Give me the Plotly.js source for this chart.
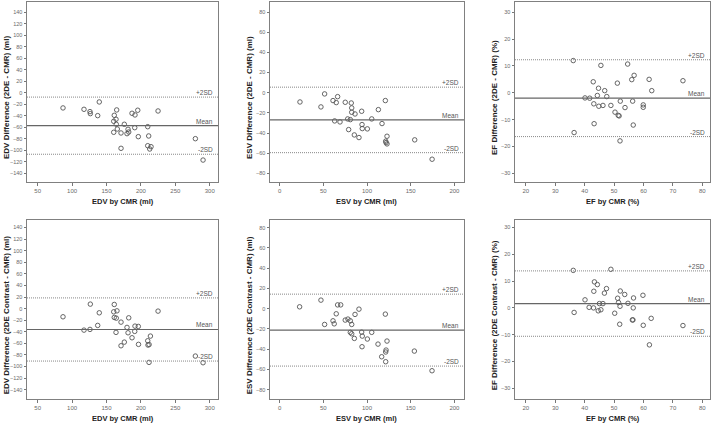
<!DOCTYPE html>
<html>
<head>
<meta charset="utf-8">
<script src="https://cdn.plot.ly/plotly-3.0.1.min.js"></script>
<style>html,body{margin:0;padding:0;background:#fff;}#chart{width:713px;height:426px;}</style>
</head>
<body>
<div id="chart"></div>
<script>
// ---------- data ----------
// Panel 1: EDV, 2DE - CMR
const edvCmrA = [86.8,117.3,126,126.5,137.2,139.5,161.3,164.8,163.8,160.5,164.2,165.7,160.5,171.1,175.9,181.3,182.3,179.8,187.1,191.4,195.4,191,196.2,171.1,209.9,211.3,209.9,214.7,212.8,224.9,279.1,290.3];
const edvDiff2DE = [-26.4,-28.8,-32.8,-36.3,-39.8,-16,-39.2,-29.9,-46.1,-49.6,-54.8,-63,-68.7,-69.9,-54.8,-63.5,-68.2,-71.1,-35.7,-38.6,-30.4,-60.7,-76.3,-96.5,-59,-75.1,-92,-93.7,-97.7,-31.7,-79.8,-116.9];
const edvLines2DE = [-57.2, -7.6, -106.8]; // mean, +2SD, -2SD

// Panel 2: ESV, 2DE - CMR
const esvCmrA = [23.3,47.3,51.5,61.1,64.8,66.4,63,69.1,75.1,82,82.5,82.5,86.3,77.9,80.9,93.9,79,85.5,90.8,94.3,94.6,100.4,105.4,113,117.2,121,122.9,121.4,121.8,122.9,154.6,174.5];
const esvDiff2DE = [-9.2,-14.1,-1.2,-7.8,-9.8,-3.9,-28,-29,-9.5,-10.2,-15.1,-19.4,-21.1,-26,-26.7,-18.4,-36.6,-41.9,-44.5,-31.6,-35.6,-35.9,-26,-16.8,-30.6,-7.8,-43.2,-48.1,-49.5,-50.8,-46.8,-66];
const esvLines2DE = [-27, 5.5, -59.5];

// Panel 3: EF, 2DE - CMR
const efCmrA = [36.1,36.4,40.1,41.7,42.9,43.1,43.2,44.3,44.7,44.8,45.5,46.2,46.8,47.5,48.9,50.3,51.1,51.4,51.7,52.1,52,53.7,54.6,56,56.8,56.3,56.5,59.9,59.9,61.9,62.8,73.4];
const efDiff2DE = [12,-14.8,-1.9,-2,4.1,-4.1,-11.5,-1,1.7,-5,10.2,-4.7,0.8,-1.4,-4.7,-7.2,3.6,-8.4,-8.6,-3.1,-17.9,-5.5,10.7,4.9,6.5,-3.1,-12,-4.5,-5.4,5,0.8,4.5];
const efLines2DE = [-2, 12.3, -16.3];

// Panel 4: EDV, 2DE Contrast - CMR
const edvCmrB = [86.8,117.3,126,126.5,137.2,139.5,161.3,160.5,165.2,161.3,164.2,171.1,163.8,175.9,171.1,179.8,181.3,182.3,187.1,191.4,196.2,191,196.5,209.9,210.3,211.9,213.8,224.9,279.1,211.8,290.3];
const edvDiffCon = [-14.1,-37.1,-35.9,7.8,-29,-7.2,7.2,-5.5,-3.8,-15.2,-16.4,-23.3,-41,-57.8,-64.1,-32.4,-41.7,-15.9,-50.3,-30.2,-30.7,-39.3,-61.7,-55.5,-62.9,-62,-47.4,-4.3,-81.9,-92.8,-93.4];
const edvLinesCon = [-36, 18.5, -90.5];

// Panel 5: ESV, 2DE Contrast - CMR
const esvCmrB = [22.9,47.3,51.5,61.1,62.5,64.8,66.4,69.9,75.1,78.2,80.9,82.5,86.3,90.8,80.9,82.5,85.5,93.9,94.6,94.3,100.4,105.4,112.6,121,122.9,121.8,121.4,116.8,154.2,121.4,174.4];
const esvDiffCon = [1.8,8.4,-15.6,-12,-15,-5.1,3.7,3.7,-11.3,-10.3,-12,-15.6,-5.7,-0.5,-23.4,-24.8,-29.4,-23.2,-27.1,-37.6,-30,-23.4,-35,-5.4,-32,-40.9,-42.8,-47.5,-41.9,-52.4,-61.3];
const esvLinesCon = [-21.2, 14.3, -56.7];

// Panel 6: EF, 2DE Contrast - CMR
const efCmrB = [36.1,36.4,40.1,41.5,43,43.3,43.1,44.3,44.6,45,45.5,46.2,46.7,47.4,48.9,50.2,51.2,51.5,52.1,52,51.9,53.6,54.7,56.2,56.4,56.6,56.5,59.8,59.9,62.6,62,73.4];
const efDiffCon = [14,-1.7,3,0.2,0,9.7,6.2,8.7,-1.1,1.6,-0.7,1.6,5.5,7.2,14.4,-2,3.6,2,6.3,0.6,-6.1,5,1.7,-4.5,-4.5,3.7,0,4.7,-6.5,-3.9,-13.8,-6.6];
const efLinesCon = [1.6, 13.8, -10.6];

const lineLabels = ["Mean", "+2SD", "-2SD"];

const xTitles = ["EDV by CMR (ml)", "ESV by CMR (ml)", "EF by CMR (%)"];
const yTitles = [
  "EDV Difference (2DE - CMR) (ml)", "ESV Difference (2DE - CMR) (ml)", "EF Difference (2DE - CMR) (%)",
  "EDV Difference (2DE Contrast - CMR) (ml)", "ESV Difference (2DE Contrast - CMR) (ml)", "EF Difference (2DE Contrast - CMR) (%)"
];

// ---------- layout geometry ----------
const W = 713, H = 426;
const colPx = [[27, 218], [270, 464], [515, 710]];
const rowPx = [[2, 182], [220, 398.7]];
const xRanges = [[34.5, 312], [-11, 211], [16.3, 82.6]];
const xTicks = [[50,100,150,200,250,300],[0,50,100,150,200],[20,30,40,50,60,70,80]];
const yRanges = [[-155, 157.5], [-88.6, 90], [-33.2, 33.8], [-155.5, 153], [-88.9, 87.5], [-33.9, 32.8]];
const yTicksByCol = [
  [-140,-120,-100,-80,-60,-40,-20,0,20,40,60,80,100,120,140],
  [-80,-60,-40,-20,0,20,40,60,80],
  [-30,-20,-10,0,10,20,30]
];

const panels = [
  {x: edvCmrA, y: edvDiff2DE, lines: edvLines2DE},
  {x: esvCmrA, y: esvDiff2DE, lines: esvLines2DE},
  {x: efCmrA,  y: efDiff2DE,  lines: efLines2DE},
  {x: edvCmrB, y: edvDiffCon, lines: edvLinesCon},
  {x: esvCmrB, y: esvDiffCon, lines: esvLinesCon},
  {x: efCmrB,  y: efDiffCon,  lines: efLinesCon}
];

const FONT = '"Liberation Sans", Arial, sans-serif';
const traces = [];
const layout = {
  width: W, height: H,
  margin: {l: 0, r: 0, t: 0, b: 0},
  paper_bgcolor: '#ffffff', plot_bgcolor: '#ffffff',
  showlegend: false,
  font: {family: FONT, color: '#555'},
  shapes: [], annotations: []
};

panels.forEach((p, i) => {
  const row = Math.floor(i / 3), col = i % 3;
  const n = i + 1;
  const xa = 'xaxis' + (n === 1 ? '' : n), ya = 'yaxis' + (n === 1 ? '' : n);
  const xr = 'x' + (n === 1 ? '' : n), yr = 'y' + (n === 1 ? '' : n);
  const cx = colPx[col], ry = rowPx[row];
  layout[xa] = {
    domain: [cx[0] / W, cx[1] / W], anchor: yr, range: xRanges[col],
    tickvals: xTicks[col], ticks: 'outside', ticklen: 3, tickwidth: 1, tickcolor: '#777',
    showline: true, linecolor: '#808080', linewidth: 1, mirror: true,
    showgrid: false, zeroline: false,
    tickfont: {family: FONT, size: 6, color: '#6a6a6a'}
  };
  layout[ya] = {
    domain: [1 - ry[1] / H, 1 - ry[0] / H], anchor: xr, range: yRanges[i],
    tickvals: yTicksByCol[col], ticks: 'outside', ticklen: 2.5, tickwidth: 1, tickcolor: '#777',
    showline: true, linecolor: '#808080', linewidth: 1, mirror: true,
    showgrid: false, zeroline: false,
    tickfont: {family: FONT, size: 5.5, color: '#6a6a6a'}
  };
  traces.push({
    type: 'scatter', mode: 'markers', x: p.x, y: p.y, xaxis: xr, yaxis: yr,
    marker: {symbol: 'circle-open', size: 4.5, color: '#555', line: {width: 0.9, color: '#555'}},
    hoverinfo: 'skip'
  });
  p.lines.forEach((v, k) => {
    layout.shapes.push({
      type: 'line', xref: xr + ' domain', yref: yr, x0: 0, x1: 1, y0: v, y1: v,
      line: {color: k === 0 ? '#666' : '#888', width: k === 0 ? 1.2 : 1, dash: k === 0 ? 'solid' : '1px,1px'}
    });
    layout.annotations.push({
      xref: xr + ' domain', yref: yr, x: 0.985, y: v, xanchor: 'right', yanchor: 'bottom',
      yshift: -1, text: lineLabels[k], showarrow: false,
      font: {family: FONT, size: 6.5, color: '#555'}
    });
  });
  // axis titles
  layout.annotations.push({
    xref: 'paper', yref: 'paper', x: (cx[0] + cx[1]) / 2 / W, y: 1 - (row === 0 ? 202 : 418) / H,
    xanchor: 'center', yanchor: 'middle', showarrow: false, text: xTitles[col],
    font: {family: FONT, size: 7.5, color: '#222', weight: 'bold'}
  });
  layout.annotations.push({
    xref: 'paper', yref: 'paper', x: (cx[0] - 21) / W, y: 1 - ((ry[0] + ry[1]) / 2 + 6) / H,
    xanchor: 'center', yanchor: 'middle', textangle: -90, showarrow: false, text: yTitles[i],
    font: {family: FONT, size: 8, color: '#222', weight: 'bold'}
  });
});

Plotly.newPlot('chart', traces, layout, {displayModeBar: false, staticPlot: true});
</script>
</body>
</html>
